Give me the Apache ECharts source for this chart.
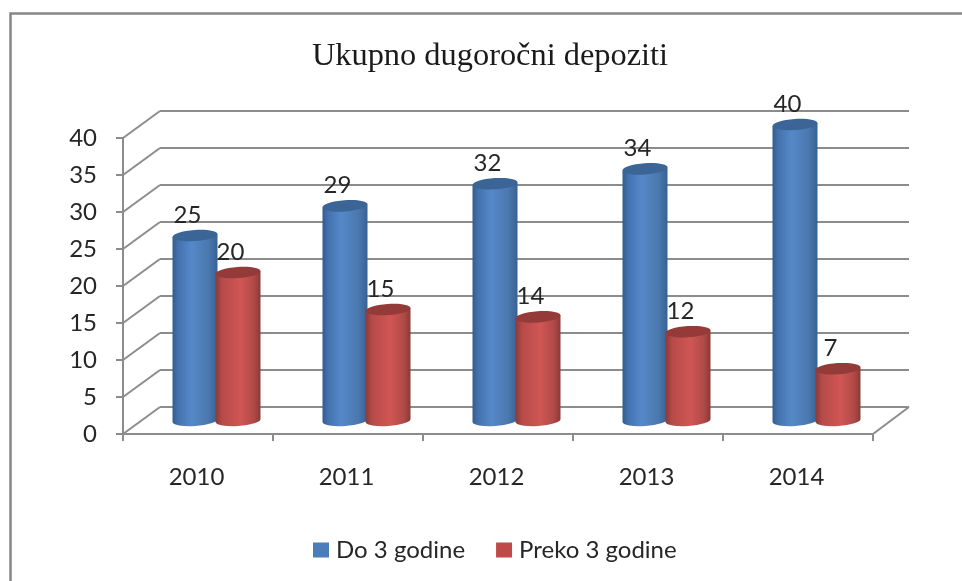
<!DOCTYPE html>
<html><head><meta charset="utf-8">
<style>html,body{margin:0;padding:0;background:#fff}#c{width:962px;height:581px}</style>
<script src="https://cdn.jsdelivr.net/npm/echarts@6/dist/echarts.min.js"></script>
</head><body><div id="c"></div>
<script>
const titleText = 'Ukupno dugoročni depoziti';
const categories = ['2010','2011','2012','2013','2014'];
const do3 = [25,29,32,34,40];
const preko3 = [20,15,14,12,7];
const yTicks = [0,5,10,15,20,25,30,35,40];

const FONT = 'Lato, Carlito, sans-serif';
const AXIS = '#8c8c8c';
const depthX = 37, depthY = 27;
const chart = echarts.init(document.getElementById('c'));

function cyl(api, side, stops, topColor) {
  const cat = api.value(0), val = api.value(1);
  const p0 = api.coord([cat, 0]), p1 = api.coord([cat, val]);
  const w = 45, ox = depthX / 2, oy = -depthY / 2;
  const cx = p0[0] + ox + side * 21.5;
  const l = cx - w / 2, r = cx + w / 2;
  const yb = p0[1] + oy, yt = p1[1] + oy;
  const rx = w / 2, ry = 5.6, rot = -4, tilt = rx * Math.tan(4 * Math.PI / 180);
  const path = `M${l} ${yt + tilt} L${l} ${yb + tilt} A${rx} ${ry} ${rot} 0 0 ${r} ${yb - tilt} L${r} ${yt - tilt} Z`;
  return {
    type: 'group',
    children: [
      { type: 'path', shape: { pathData: path },
        style: { fill: { type: 'linear', x: 0, y: 0, x2: 1, y2: 0, colorStops: stops } } },
      { type: 'ellipse', shape: { cx: cx, cy: yt, rx: rx, ry: ry },
        rotation: 4 * Math.PI / 180, originX: cx, originY: yt,
        style: { fill: topColor } },
      { type: 'text', style: { text: String(val), x: cx - 7.5, y: yt - 20.5, align: 'center', verticalAlign: 'middle',
        font: '24px ' + FONT, fill: '#262626' } }
    ]
  };
}
const blueStops = [{offset:0,color:'#335c8e'},{offset:.12,color:'#4271ad'},{offset:.42,color:'#5688c9'},{offset:.8,color:'#4a78ae'},{offset:1,color:'#376194'}];
const redStops = [{offset:0,color:'#8a3a38'},{offset:.15,color:'#b64b49'},{offset:.55,color:'#d05654'},{offset:.85,color:'#b04a48'},{offset:1,color:'#893937'}];

chart.setOption({
  animation: false,
  backgroundColor: '#fff',
  title: { text: titleText, left: 485, top: 35, textAlign: 'center',
    textStyle: { fontFamily: '"Liberation Serif", serif', fontSize: 32.4, fontWeight: 'normal', color: '#1a1a1a' } },
  legend: { data: ['Do 3 godine','Preko 3 godine'], left: 308, top: 533, itemWidth: 16, itemHeight: 15, itemGap: 31,
    icon: 'rect', textStyle: { fontFamily: FONT, fontSize: 24, color: '#262626', padding: [0,0,0,2] } },
  grid: [
    { left: 123, width: 750, top: 138, height: 296 },
    { left: 160, width: 749, top: 111, height: 296 }
  ],
  xAxis: [
    { type: 'category', data: categories, gridIndex: 0,
      axisLine: { lineStyle: { color: AXIS, width: 2 } },
      axisTick: { show: true, alignWithLabel: false, length: 7, lineStyle: { color: AXIS, width: 2 } },
      axisLabel: { margin: 31, fontFamily: FONT, fontSize: 24, color: '#262626', padding: [0,3,0,0] } },
    { type: 'category', data: categories, gridIndex: 1, show: false }
  ],
  yAxis: [
    { type: 'value', min: 0, max: 40, interval: 5, gridIndex: 0,
      axisLine: { show: true, lineStyle: { color: AXIS, width: 2 } },
      axisTick: { show: true, length: 7, lineStyle: { color: AXIS, width: 2 } },
      splitLine: { show: false },
      axisLabel: { margin: 26, fontFamily: FONT, fontSize: 24, color: '#262626', padding: [4,0,0,0] } },
    { type: 'value', min: 0, max: 40, interval: 5, gridIndex: 1,
      axisLine: { show: false }, axisTick: { show: false }, axisLabel: { show: false },
      splitLine: { show: true, lineStyle: { color: AXIS, width: 2 } } }
  ],
  series: [
    { type: 'custom', name: 'walls', xAxisIndex: 0, yAxisIndex: 0, silent: true, z: 1,
      data: yTicks.map(v => [v]),
      encode: { y: 0 },
      renderItem(params, api) {
        const x0 = params.coordSys.x, y = api.coord([0, api.value(0)])[1];
        const lines = [{ type: 'line', shape: { x1: x0, y1: y, x2: x0 + depthX, y2: y - depthY },
          style: { stroke: AXIS, lineWidth: 2 } }];
        if (api.value(0) === 0) {
          const x1 = x0 + params.coordSys.width;
          lines.push({ type: 'line', shape: { x1: x1, y1: y, x2: x1 + depthX - 1, y2: y - depthY },
            style: { stroke: AXIS, lineWidth: 2 } });
        }
        return { type: 'group', children: lines };
      } },
    { type: 'custom', name: 'Do 3 godine', z: 3, xAxisIndex: 0, yAxisIndex: 0,
      itemStyle: { color: '#4a7ebb' },
      data: categories.map((c, i) => [i, do3[i]]),
      encode: { x: 0, y: 1 },
      renderItem: (p, api) => cyl(api, -1, blueStops, '#3a6596') },
    { type: 'custom', name: 'Preko 3 godine', z: 4, xAxisIndex: 0, yAxisIndex: 0,
      itemStyle: { color: '#be4b48' },
      data: categories.map((c, i) => [i, preko3[i]]),
      encode: { x: 0, y: 1 },
      renderItem: (p, api) => cyl(api, 1, redStops, '#943a38') }
  ],
  graphic: [
    { type: 'polyline', silent: true, z: 0,
      shape: { points: [[10.5, 581], [10.5, 13.5], [962, 13.5]] },
      style: { fill: 'none', stroke: '#868686', lineWidth: 2.5 } }
  ]
});
</script></body></html>
